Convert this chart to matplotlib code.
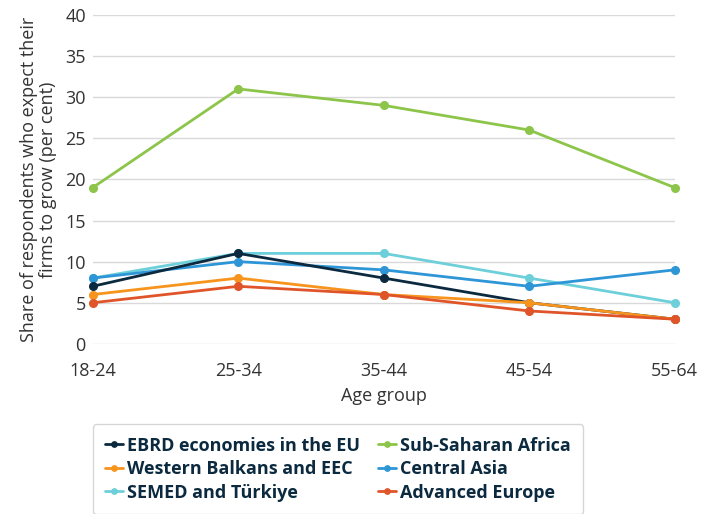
import matplotlib
matplotlib.use("Agg")
import matplotlib.pyplot as plt

plt.rcParams['font.family'] = ['Open Sans', 'Noto Sans', 'DejaVu Sans']

categories = ["18-24", "25-34", "35-44", "45-54", "55-64"]
ebrd_eu = [7, 11, 8, 5, 3]
ssa = [19, 31, 29, 26, 19]
wb_eec = [6, 8, 6, 5, 3]
central_asia = [8, 10, 9, 7, 9]
semed = [8, 11, 11, 8, 5]
adv_europe = [5, 7, 6, 4, 3]
yticks = [0, 5, 10, 15, 20, 25, 30, 35, 40]

series = [
    ("EBRD economies in the EU", ebrd_eu, "#0b2a3f"),
    ("Western Balkans and EEC", wb_eec, "#f7941d"),
    ("SEMED and Türkiye", semed, "#6ccfd9"),
    ("Sub-Saharan Africa", ssa, "#8cc54a"),
    ("Central Asia", central_asia, "#2e96d6"),
    ("Advanced Europe", adv_europe, "#e0542a"),
]
draw_order = [3, 2, 4, 0, 1, 5]

fig = plt.figure(figsize=(7.08, 5.14), dpi=100)
ax = fig.add_axes([0.131, 0.331, 0.822, 0.640])
x = list(range(len(categories)))
handles = {}
for i in draw_order:
    name, vals, col = series[i]
    h, = ax.plot(x, vals, color=col, lw=2.0, marker='o', markersize=5.5, label=name,
                 solid_capstyle='round', zorder=3, clip_on=False)
    handles[i] = h

ax.set_xlim(0, 4)
ax.set_ylim(0, 40)
ax.set_yticks(yticks)
ax.set_xticks(x)
ax.set_xticklabels(categories)
ax.yaxis.grid(True, color="#d9d9d9", lw=1)
ax.set_axisbelow(True)
for s in ax.spines.values():
    s.set_visible(False)
ax.tick_params(axis='both', length=0, labelsize=13, colors="#333333")
ax.tick_params(axis='y', pad=5)
ax.tick_params(axis='x', pad=13)
ax.set_xlabel("Age group", fontsize=13, color="#333333", labelpad=5)
ax.set_ylabel("Share of respondents who expect their\nfirms to grow (per cent)",
              fontsize=13, color="#333333", labelpad=6, linespacing=1.05)

leg = fig.legend([handles[i] for i in range(6)], [series[i][0] for i in range(6)],
                 ncol=2, loc='upper left', bbox_to_anchor=(0.131, 0.175),
                 borderaxespad=0,
                 frameon=True, fancybox=True, edgecolor="#cccccc",
                 prop={'weight': 'bold', 'size': 13}, handlelength=1.0,
                 handletextpad=0.2, columnspacing=1.0, labelspacing=0.3,
                 borderpad=0.7, markerscale=0.7)
for t in leg.get_texts():
    t.set_color("#0b2a3f")

fig.savefig("out.png", dpi=100)
